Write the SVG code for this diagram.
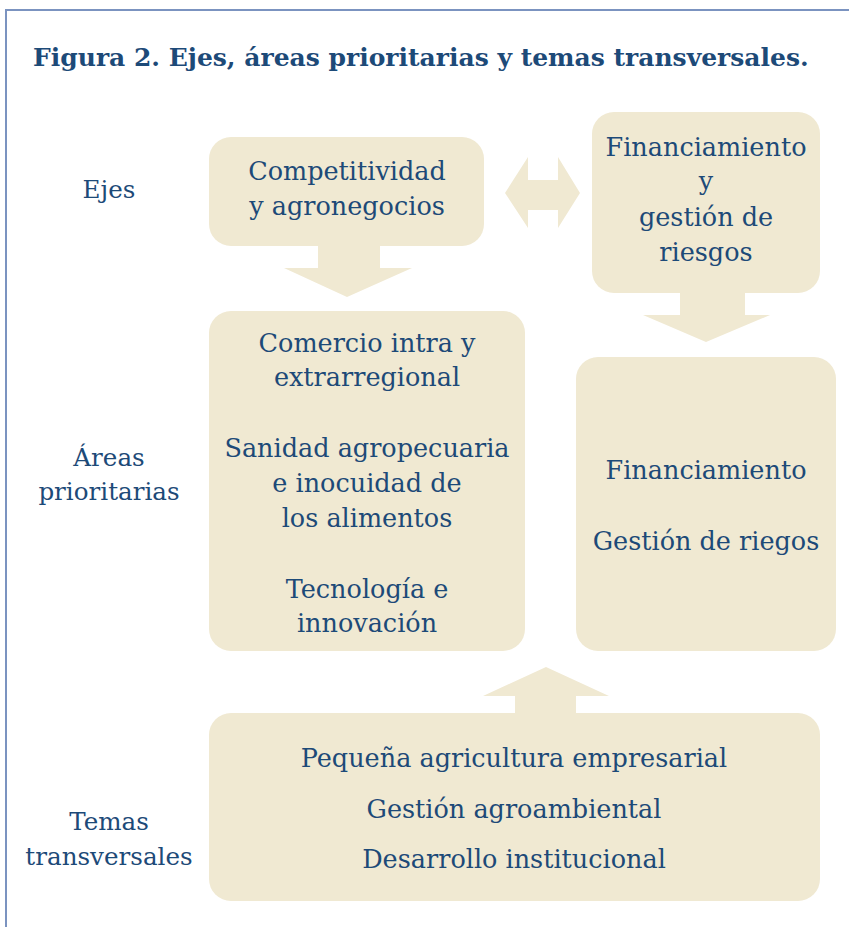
<svg xmlns="http://www.w3.org/2000/svg" width="849" height="927" viewBox="0 0 849 927">
<style>
.box{fill:#f0e9d2}
.arr{fill:#f0e9d2}
text{font-family:'DejaVu Serif',serif;fill:#1d4a78;font-size:25.5px;text-anchor:middle}
.lbl{font-size:24.6px}
.title{font-weight:bold;font-size:25px;text-anchor:start}
</style>
<rect x="0" y="0" width="849" height="927" fill="#ffffff"/>
<path d="M6,927 V10 H849" fill="none" stroke="#7b93c0" stroke-width="2"/>
<text class="title" x="33" y="66">Figura 2. Ejes, áreas prioritarias y temas transversales.</text>
<g id="labels">
<text class="lbl" x="109" y="198">Ejes</text>
<text class="lbl" x="109" y="466">Áreas</text>
<text class="lbl" x="109" y="500">prioritarias</text>
<text class="lbl" x="109" y="830">Temas</text>
<text class="lbl" x="109" y="865">transversales</text>
</g>
<g id="connectors">
<polygon class="arr" points="318,246 380,246 380,268 412,268 347,297 284,268 318,268"/>
<polygon class="arr" points="680,293 745,293 745,315 770,315 706,342 643,315 680,315"/>
<polygon class="arr" points="515,714 576,714 576,696 609,696 546,667 483,696 515,696"/>
<polygon class="arr" points="505,193 528,157 528,180 558,180 558,157 580,193 558,228 558,210 528,210 528,228"/>
</g>
<g id="eje1">
<rect class="box" x="209" y="137" width="275" height="109" rx="22"/>
<text x="347" y="180">Competitividad</text>
<text x="347" y="215">y agronegocios</text>
</g>
<g id="eje2">
<rect class="box" x="592" y="112" width="228" height="181" rx="22"/>
<text x="706" y="156">Financiamiento</text>
<text x="706" y="190">y</text>
<text x="706" y="226">gestión de</text>
<text x="706" y="261">riesgos</text>
</g>
<g id="areas1">
<rect class="box" x="209" y="311" width="316" height="340" rx="22"/>
<text x="367" y="352">Comercio intra y</text>
<text x="367" y="386">extrarregional</text>
<text x="367" y="457">Sanidad agropecuaria</text>
<text x="367" y="492">e inocuidad de</text>
<text x="367" y="527">los alimentos</text>
<text x="367" y="598">Tecnología e</text>
<text x="367" y="632">innovación</text>
</g>
<g id="areas2">
<rect class="box" x="576" y="357" width="260" height="294" rx="22"/>
<text x="706" y="479">Financiamiento</text>
<text x="706" y="550">Gestión de riegos</text>
</g>
<g id="temas">
<rect class="box" x="209" y="713" width="611" height="188" rx="22"/>
<text x="514" y="767">Pequeña agricultura empresarial</text>
<text x="514" y="818">Gestión agroambiental</text>
<text x="514" y="868">Desarrollo institucional</text>
</g>
</svg>
